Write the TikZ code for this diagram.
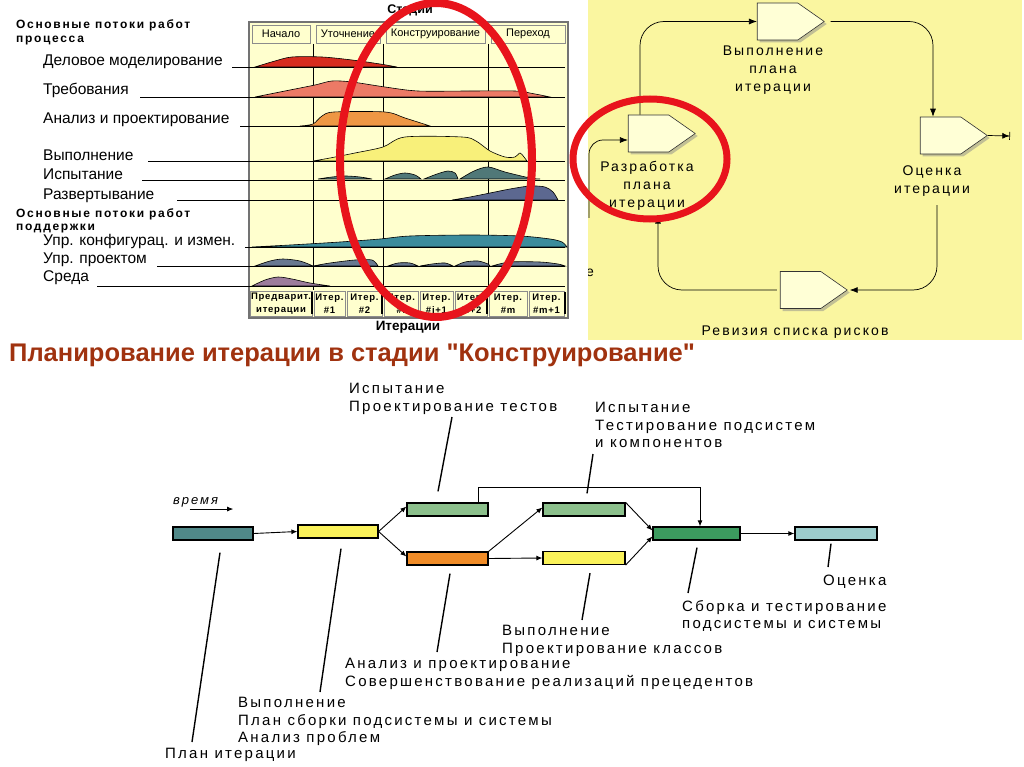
\documentclass[tikz,border=0pt]{standalone}
\usepackage{fontspec}
\setmainfont{Liberation Sans}
\newfontfamily\spcfont[LetterSpace=15]{Liberation Sans}
\newfontfamily\widefont[LetterSpace=8]{Liberation Sans}
\newfontfamily\headfont[LetterSpace=14]{Liberation Sans}
\newfontfamily\titlefont[Ligatures=TeXOff]{Liberation Sans}
\usetikzlibrary{arrows.meta,shapes.symbols,shadows}

% colours
\definecolor{chartbg}{RGB}{255,255,206}
\definecolor{panelbg}{RGB}{250,246,160}
\definecolor{cream}{RGB}{255,255,214}
\definecolor{ringred}{RGB}{232,20,28}
\definecolor{titlebrown}{RGB}{160,50,15}
\definecolor{wfBiz}{RGB}{214,44,30}
\definecolor{wfReq}{RGB}{236,122,102}
\definecolor{wfAna}{RGB}{238,151,68}
\definecolor{wfImp}{RGB}{248,240,122}
\definecolor{wfTst}{RGB}{80,120,120}
\definecolor{wfDep}{RGB}{92,104,144}
\definecolor{wfCfg}{RGB}{60,140,156}
\definecolor{wfPrj}{RGB}{104,120,144}
\definecolor{wfEnv}{RGB}{156,124,156}
\definecolor{barTeal}{RGB}{80,136,136}
\definecolor{barYellow}{RGB}{250,242,90}
\definecolor{barGreen}{RGB}{140,192,140}
\definecolor{barOrange}{RGB}{240,140,40}
\definecolor{barDark}{RGB}{60,155,95}
\definecolor{barLight}{RGB}{156,204,204}

\begin{document}
\begin{tikzpicture}
[
	x=1pt, y=-1pt,
	wflabel/.style={anchor=west, inner sep=0pt, font={\fontsize{15.5}{15.5}\selectfont}},
	grouplabel/.style={anchor=north west, inner sep=0pt, align=left, font={\headfont\bfseries\fontsize{12}{13.5}\selectfont}},
	phasetext/.style={inner sep=0pt, font={\fontsize{11}{11}\selectfont}},
	itertext/.style={inner sep=0pt, align=center, font={\widefont\bfseries\fontsize{9.5}{13}\selectfont}},
	rowline/.style={black, line width=0.9pt},
	hump/.style={draw=black, line width=0.6pt},
	stagebox/.style={signal, signal to=east, signal pointer angle=70, draw=black!80, line width=0.6pt,
		fill=cream, minimum width=67pt, minimum height=37pt, inner sep=0pt,
		drop shadow={shadow xshift=2.5pt, shadow yshift=-2.5pt, fill=black!45}},
	stagelabel/.style={anchor=north, inner sep=0pt, align=center, font={\spcfont\fontsize{14}{18}\selectfont}},
	cyc/.style={black, line width=0.7pt, rounded corners=24pt, -{Latex[length=8pt,width=6pt]}},
	exitarr/.style={black, line width=0.7pt, -{Latex[length=7pt,width=6pt] Bar[width=8pt]}},
	ring/.style={draw=ringred, line width=8pt},
	bar/.style={draw=black, line width=1.2pt, minimum height=13pt, inner sep=0pt},
	link/.style={black, line width=0.9pt, -{Latex[length=6pt,width=5pt]}},
	lead/.style={black, line width=1.4pt},
	note/.style={anchor=north west, inner sep=0pt, align=left, font={\spcfont\fontsize{15}{17.5}\selectfont}}
]
	\useasboundingbox (0,0) rectangle (1024,767);

	% stages chart frame and header
	\draw[black!55, line width=1.2pt, fill=chartbg] (249,22) rectangle (568,318);
	\node[font={\bfseries\fontsize{12.5}{12.5}\selectfont}] (stages) at (410,10) {Стадии};
	\foreach \a/\b/\lbl [count=\i] in {249/313/Начало, 313/383/Уточнение, 383/488/Конструирование, 488/568/Переход}
	{
		\draw[black!45, fill=chartbg] (\a+3,25) rectangle (\b-3,43);
		\node[phasetext] (phase\i) at ({(\a+\b)/2},34) {\lbl};
	}

	% phase dividers
	\foreach \x in {313,383,488}
		\draw[black, line width=0.9pt] (\x,44) -- (\x,290);

	% workflow humps
	\filldraw[hump, fill=wfBiz] plot[smooth, tension=0.5] coordinates {(255,67) (275,61) (292,57) (322,57) (352,60) (380,64) (397,67)} -- cycle;
	\filldraw[hump, fill=wfReq] plot[smooth, tension=0.5] coordinates {(255,97) (290,90) (315,85) (332,81) (352,82) (385,87) (418,91) (470,91) (515,91) (535,94) (550,97)} -- cycle;
	\filldraw[hump, fill=wfAna] plot[smooth, tension=0.5] coordinates {(300,126) (313,124) (322,116) (334,112) (385,112) (405,118) (430,126)} -- cycle;
	\filldraw[hump, fill=wfImp] plot[smooth, tension=0.5] coordinates {(313,161) (330,158) (355,153) (383,147) (405,137) (462,137) (476,141) (490,151) (505,157) (515,157) (520,153) (524,157) (527,161)} -- cycle;
	\filldraw[hump, fill=wfTst] plot[smooth, tension=0.5] coordinates {(318,179) (332,177) (346,176) (360,177) (372,179)} -- cycle;
	\filldraw[hump, fill=wfTst] plot[smooth, tension=0.5] coordinates {(385,179) (395,175) (405,173) (415,175) (421,179)} -- cycle;
	\filldraw[hump, fill=wfTst] plot[smooth, tension=0.5] coordinates {(424,179) (437,174) (448,171) (455,173) (458,179)} -- cycle;
	\filldraw[hump, fill=wfTst] plot[smooth, tension=0.5] coordinates {(460,179) (474,171) (488,167) (505,172) (530,178) (540,179)} -- cycle;
	\filldraw[hump, fill=wfDep] plot[smooth, tension=0.5] coordinates {(452,200) (470,197) (490,193) (510,189) (530,186) (545,187) (553,192) (558,200)} -- cycle;
	\filldraw[hump, fill=wfCfg] plot[smooth, tension=0.5] coordinates {(252,247) (290,245) (340,242) (380,239) (410,236) (470,235) (520,236) (550,239) (562,242) (567,247)} -- cycle;
	\filldraw[hump, fill=wfPrj] plot[smooth, tension=0.5] coordinates {(255,266) (270,261) (283,259) (300,261) (313,266)} -- cycle;
	\filldraw[hump, fill=wfPrj] plot[smooth, tension=0.5] coordinates {(313,266) (330,263) (355,260) (372,260) (378,266)} -- cycle;
	\filldraw[hump, fill=wfPrj] plot[smooth, tension=0.5] coordinates {(388,266) (398,263) (410,263) (418,266)} -- cycle;
	\filldraw[hump, fill=wfPrj] plot[smooth, tension=0.5] coordinates {(420,266) (432,264) (445,263) (453,266)} -- cycle;
	\filldraw[hump, fill=wfPrj] plot[smooth, tension=0.5] coordinates {(455,266) (465,262) (478,261) (488,264) (490,266)} -- cycle;
	\filldraw[hump, fill=wfPrj] plot[smooth, tension=0.5] coordinates {(492,266) (510,262) (540,262) (558,264) (565,266)} -- cycle;
	\filldraw[hump, fill=wfEnv] plot[smooth, tension=0.5] coordinates {(252,286) (265,280) (278,277) (292,279) (310,283) (330,286)} -- cycle;

	% row lines from the labels
	\foreach \y/\xs in {67/232, 97/140, 126/240, 161/148, 180/142, 200/177, 247/245, 266/157, 286/97}
		\draw[rowline] (\xs,\y) -- (565,\y);

	% workflow labels
	\node[grouplabel] (grpMain) at (16,20) {Основные потоки работ\\процесса};
	\node[wflabel] (lbBiz) at (43,62) {Деловое моделирование};
	\node[wflabel] (lbReq) at (43,90) {Требования};
	\node[wflabel] (lbAna) at (43,120) {Анализ и проектирование};
	\node[wflabel] (lbImp) at (43,155) {Выполнение};
	\node[wflabel] (lbTst) at (43,174) {Испытание};
	\node[wflabel] (lbDep) at (43,196) {Развертывание};
	\node[grouplabel] (grpSup) at (16,208) {Основные потоки работ\\поддержки};
	\node[wflabel] (lbCfg) at (43,241) {Упр. конфигурац. и измен.};
	\node[wflabel] (lbPrj) at (43,260) {Упр. проектом};
	\node[wflabel] (lbEnv) at (43,278) {Среда};

	% iterations row
	\foreach \a/\b/\lbl [count=\i] in {249/313/{Предварит.\\итерации}, 313/346/{Итер.\\\#1}, 346/383/{Итер.\\\#2}, 383/419/{Итер.\\\#i}, 419/454/{Итер.\\\#i+1}, 454/488/{Итер.\\\#i+2}, 488/528/{Итер.\\\#m}, 528/565/{Итер.\\\#m+1}}
	{
		\draw[black!45, fill=chartbg] (\a+1,291) rectangle (\b-1,316);
		\node[itertext] (iter\i) at ({(\a+\b)/2},304) {\lbl};
	}
	\foreach \x in {312,382,487,565}
		\draw[black, line width=2.5pt] (\x,292) -- (\x,314);
	\node[font={\bfseries\fontsize{13.5}{13.5}\selectfont}] (iters) at (408,327) {Итерации};

	% iteration cycle panel
	\fill[panelbg] (588,0) rectangle (1022,340);
	\node[stagebox] (exe) at (777.5,21.5) {};
	\node[stagebox] (dev) at (648.5,133.5) {};
	\node[stagebox] (eval) at (940.5,135.5) {};
	\node[stagebox] (rev) at (800.5,290) {};
	\node[stagelabel] (lbExe) at (773,46) {Выполнение\\плана\\итерации};
	\node[stagelabel] (lbDev) at (647,161) {Разработка\\плана\\итерации};
	\node[stagelabel] (lbEval) at (932,166) {Оценка\\итерации};
	\node[stagelabel, anchor=center] (lbRev) at (795,332) {Ревизия списка рисков};
	\begin{scope}
		\clip (588,0) rectangle (1022,340);
		\node[font={\spcfont\fontsize{14}{14}\selectfont}] (cutText) at (590,273) {е};
	\end{scope}

	\draw[cyc] ([xshift=-8.5pt]dev.north) |- (exe.west);
	\draw[cyc] ([xshift=6pt]exe.east) -| ([xshift=-7.5pt]eval.north);
	\coordinate (exitEnd) at (1010,136);
	\draw[exitarr] (eval.east) -- (exitEnd);
	\draw[cyc] ([xshift=5pt,yshift=-8pt]lbEval.south) |- ([xshift=2pt]rev.east);
	\draw[cyc] ([xshift=-3pt]rev.west) -| ([xshift=11pt,yshift=-5pt]lbDev.south);
	\coordinate (devIn) at (589,218);
	\draw[cyc, rounded corners=14pt] (devIn) |- ([yshift=-6.5pt]dev.west);

	% red rings
	\draw[ring] (436,160) ellipse [x radius=96pt, y radius=157pt];
	\draw[ring, line width=7pt] (650,159) ellipse [x radius=77pt, y radius=60pt];

	% title
	\node[anchor=west, inner sep=0pt, text=titlebrown, font={\titlefont\bfseries\fontsize{25.5}{25.5}\selectfont}] (title) at (9,355) {Планирование итерации в стадии "Конструирование"};

	% iteration plan bars
	\node[bar, fill=barTeal, minimum width=80pt] (planBar) at (213,533.5) {};
	\node[bar, fill=barYellow, minimum width=80pt] (buildBar) at (338,531.5) {};
	\node[bar, fill=barGreen, minimum width=81pt] (testDesBar) at (447.5,509.5) {};
	\node[bar, fill=barOrange, minimum width=81pt] (anaBar) at (447.5,558.5) {};
	\node[bar, fill=barGreen, minimum width=82pt] (testSubBar) at (584,509.5) {};
	\node[bar, fill=barYellow, minimum width=82pt] (classBar) at (584,558) {};
	\node[bar, fill=barDark, minimum width=87pt] (integBar) at (696.5,533.5) {};
	\node[bar, fill=barLight, minimum width=82pt] (evalBar) at (836,533.5) {};

	% links between bars
	\draw[link] (planBar.east) -- (buildBar.west);
	\draw[link] (buildBar.east) -- ([yshift=3pt]testDesBar.west);
	\draw[link] (buildBar.east) -- ([yshift=2pt]anaBar.west);
	\draw[link] (anaBar.north east) -- ([yshift=2pt]testSubBar.west);
	\draw[link] (anaBar.east) -- (classBar.west);
	\draw[link] (testSubBar.north east) -- ([yshift=3pt]integBar.west);
	\draw[link] (classBar.south east) -- ([yshift=-3pt]integBar.west);
	\draw[link] ([xshift=30.5pt]testDesBar.north) -- ++(0,-15) -| ([xshift=3.5pt]integBar.north);
	\draw[link] (integBar.east) -- (evalBar.west);

	% time arrow
	\node[anchor=west, inner sep=1pt, font={\spcfont\itshape\fontsize{13}{13}\selectfont}] (timeLb) at (172,502) {время};
	\draw[link, line width=0.7pt] ([xshift=-6pt,yshift=-1pt]timeLb.south) -- ([xshift=14pt,yshift=-1pt]timeLb.south east);

	% notes
	\node[note] (ntTestDes) at (349,383) {Испытание\\Проектирование тестов};
	\node[note] (ntTestSub) at (595,402) {Испытание\\Тестирование подсистем\\и компонентов};
	\node[note] (ntPlan) at (165,748) {План итерации};
	\node[note] (ntBuild) at (238,697) {Выполнение\\План сборки подсистемы и системы\\Анализ проблем};
	\node[note] (ntAna) at (345,658) {Анализ и проектирование\\Совершенствование реализаций прецедентов};
	\node[note] (ntClass) at (502,625) {Выполнение\\Проектирование классов};
	\node[note] (ntInteg) at (682,600) {Сборка и тестирование\\подсистемы и системы};
	\node[note] (ntEval) at (823,575) {Оценка};

	% leaders
	\coordinate (ldTestDes) at (452,417);
	\coordinate (ldTestSub) at (593,454);
	\coordinate (ldPlan) at (192,742);
	\coordinate (ldBuild) at (320,692);
	\coordinate (ldAna) at (437,652);
	\coordinate (ldClass) at (582,620);
	\coordinate (ldInteg) at (688,593);
	\coordinate (ldEval) at (828,567);
	\draw[lead] ([xshift=-9.5pt,yshift=11pt]testDesBar.north) -- (ldTestDes);
	\draw[lead] ([xshift=3pt,yshift=9pt]testSubBar.north) -- (ldTestSub);
	\draw[lead] ([xshift=7pt,yshift=-12pt]planBar.south) -- (ldPlan);
	\draw[lead] ([xshift=3pt,yshift=-10pt]buildBar.south) -- (ldBuild);
	\draw[lead] ([xshift=2.5pt,yshift=-8pt]anaBar.south) -- (ldAna);
	\draw[lead] ([xshift=6pt,yshift=-8pt]classBar.south) -- (ldClass);
	\draw[lead] ([xshift=0.5pt,yshift=-7pt]integBar.south) -- (ldInteg);
	\draw[lead] ([xshift=-5pt,yshift=-3pt]evalBar.south) -- (ldEval);

\end{tikzpicture}
\end{document}
